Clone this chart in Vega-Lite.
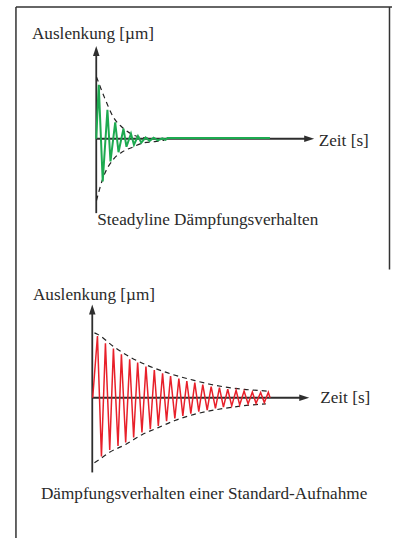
{
  "$schema": "https://vega.github.io/schema/vega-lite/v6.json",
  "width": 393,
  "height": 539,
  "autosize": {"type": "fit", "contains": "padding"},
  "padding": 0,
  "background": "white",
  "config": {"view": {"stroke": null}},
  "data": {"values": [{}]},
  "datasets": {
    "green": [
      {"t": 0, "a": 0}, {"t": 0.114, "a": 0.871}, {"t": 0.297, "a": -0.689}, {"t": 0.513, "a": 0.468},
      {"t": 0.654, "a": -0.366}, {"t": 0.87, "a": 0.266}, {"t": 1.021, "a": -0.218}, {"t": 1.249, "a": 0.161},
      {"t": 1.387, "a": -0.129}, {"t": 1.593, "a": 0.081}, {"t": 1.73, "a": -0.097}, {"t": 1.913, "a": 0.044},
      {"t": 2.069, "a": -0.065}, {"t": 2.265, "a": 0.021}, {"t": 2.449, "a": -0.037}, {"t": 2.632, "a": 0.016},
      {"t": 2.828, "a": -0.027}, {"t": 3.03, "a": 0.005}, {"t": 3.18, "a": -0.016}, {"t": 3.27, "a": 0.012},
      {"t": 7.97, "a": 0.012}
    ],
    "greenEnv": [
      {"side": "oben", "t": 0.01, "a": 1.0}, {"side": "oben", "t": 0.389, "a": 0.656}, {"side": "oben", "t": 0.769, "a": 0.36},
      {"side": "oben", "t": 1.227, "a": 0.173}, {"side": "oben", "t": 1.684, "a": 0.065}, {"side": "oben", "t": 2.297, "a": 0.011},
      {"side": "oben", "t": 2.906, "a": 0.0},
      {"side": "unten", "t": 0.01, "a": -1.0}, {"side": "unten", "t": 0.311, "a": -0.634}, {"side": "unten", "t": 0.769, "a": -0.339},
      {"side": "unten", "t": 1.227, "a": -0.205}, {"side": "unten", "t": 1.684, "a": -0.134}, {"side": "unten", "t": 2.142, "a": -0.069},
      {"side": "unten", "t": 2.755, "a": -0.044}, {"side": "unten", "t": 3.13, "a": -0.024}
    ],
    "red": [
      {"t": 0.02, "a": 0}, {"t": 0.239, "a": 0.951}, {"t": 0.423, "a": -0.905}, {"t": 0.607, "a": 0.838},
      {"t": 0.805, "a": -0.803}, {"t": 0.975, "a": 0.757}, {"t": 1.186, "a": -0.742}, {"t": 1.343, "a": 0.669},
      {"t": 1.54, "a": -0.689}, {"t": 1.724, "a": 0.592}, {"t": 1.908, "a": -0.612}, {"t": 2.092, "a": 0.542},
      {"t": 2.29, "a": -0.535}, {"t": 2.474, "a": 0.48}, {"t": 2.676, "a": -0.485}, {"t": 2.86, "a": 0.428},
      {"t": 3.044, "a": -0.434}, {"t": 3.241, "a": 0.377}, {"t": 3.425, "a": -0.36}, {"t": 3.609, "a": 0.335},
      {"t": 3.807, "a": -0.32}, {"t": 3.991, "a": 0.295}, {"t": 4.175, "a": -0.28}, {"t": 4.359, "a": 0.258},
      {"t": 4.543, "a": -0.245}, {"t": 4.726, "a": 0.234}, {"t": 4.91, "a": -0.215}, {"t": 5.094, "a": 0.203},
      {"t": 5.297, "a": -0.19}, {"t": 5.48, "a": 0.172}, {"t": 5.678, "a": -0.165}, {"t": 5.862, "a": 0.157},
      {"t": 6.046, "a": -0.145}, {"t": 6.244, "a": 0.131}, {"t": 6.428, "a": -0.125}, {"t": 6.63, "a": 0.115},
      {"t": 6.795, "a": -0.11}, {"t": 6.998, "a": 0.105}, {"t": 7.182, "a": -0.095}, {"t": 7.379, "a": 0.089},
      {"t": 7.549, "a": -0.085}, {"t": 7.761, "a": 0.08}, {"t": 7.931, "a": -0.075}, {"t": 8.115, "a": 0.085},
      {"t": 8.193, "a": 0.0}
    ],
    "redEnv": [
      {"side": "oben", "t": 0.1, "a": 1.0}, {"side": "oben", "t": 0.24, "a": 0.98}, {"side": "oben", "t": 0.98, "a": 0.79},
      {"side": "oben", "t": 1.72, "a": 0.63}, {"side": "oben", "t": 2.47, "a": 0.51}, {"side": "oben", "t": 3.24, "a": 0.41},
      {"side": "oben", "t": 3.99, "a": 0.33}, {"side": "oben", "t": 4.73, "a": 0.265}, {"side": "oben", "t": 5.48, "a": 0.205},
      {"side": "oben", "t": 6.24, "a": 0.16}, {"side": "oben", "t": 7.0, "a": 0.13}, {"side": "oben", "t": 7.76, "a": 0.11},
      {"side": "oben", "t": 8.1, "a": 0.1},
      {"side": "unten", "t": 0.1, "a": -1.0}, {"side": "unten", "t": 0.42, "a": -0.93}, {"side": "unten", "t": 0.8, "a": -0.84},
      {"side": "unten", "t": 1.54, "a": -0.72}, {"side": "unten", "t": 2.29, "a": -0.57}, {"side": "unten", "t": 3.04, "a": -0.46},
      {"side": "unten", "t": 3.81, "a": -0.35}, {"side": "unten", "t": 4.54, "a": -0.27}, {"side": "unten", "t": 5.3, "a": -0.21},
      {"side": "unten", "t": 6.05, "a": -0.165}, {"side": "unten", "t": 6.8, "a": -0.13}, {"side": "unten", "t": 7.55, "a": -0.105},
      {"side": "unten", "t": 8.0, "a": -0.095}
    ]
  },
  "resolve": {"scale": {"x": "independent", "y": "independent"}},
  "layer": [
    {
      "layer": [
        {
          "mark": {"type": "rule", "color": "#333333", "strokeWidth": 1.5},
          "encoding": {
            "x": {"datum": -3.684, "type": "quantitative", "scale": {"domain": [-4.416, 13.57], "nice": false, "zero": false}, "axis": null},
            "x2": {"datum": 13.57},
            "y": {"datum": 2.129, "type": "quantitative", "scale": {"domain": [-6.4516, 2.2419], "nice": false, "zero": false}, "axis": null}
          }
        },
        {
          "mark": {"type": "rule", "color": "#333333", "strokeWidth": 1.5},
          "encoding": {
            "x": {"datum": -3.684, "type": "quantitative", "scale": {"domain": [-4.416, 13.57], "nice": false, "zero": false}, "axis": null},
            "y": {"datum": 2.129, "type": "quantitative", "scale": {"domain": [-6.4516, 2.2419], "nice": false, "zero": false}, "axis": null},
            "y2": {"datum": -6.4516}
          }
        },
        {
          "mark": {"type": "rule", "color": "#333333", "strokeWidth": 1.5},
          "encoding": {
            "x": {"datum": 13.455, "type": "quantitative", "scale": {"domain": [-4.416, 13.57], "nice": false, "zero": false}, "axis": null},
            "y": {"datum": 2.129, "type": "quantitative", "scale": {"domain": [-6.4516, 2.2419], "nice": false, "zero": false}, "axis": null},
            "y2": {"datum": -2.113}
          }
        },
        {
          "mark": {"type": "rule", "color": "#2e2e2e", "strokeWidth": 1.8},
          "encoding": {
            "x": {"datum": 0, "type": "quantitative", "scale": {"domain": [-4.416, 13.57], "nice": false, "zero": false}, "axis": null},
            "y": {"datum": 1.36, "type": "quantitative", "scale": {"domain": [-6.4516, 2.2419], "nice": false, "zero": false}, "axis": null},
            "y2": {"datum": -1.202}
          }
        },
        {
          "mark": {"type": "rule", "color": "#2e2e2e", "strokeWidth": 1.8},
          "encoding": {
            "x": {"datum": 0, "type": "quantitative", "scale": {"domain": [-4.416, 13.57], "nice": false, "zero": false}, "axis": null},
            "x2": {"datum": 9.7},
            "y": {"datum": 0, "type": "quantitative", "scale": {"domain": [-6.4516, 2.2419], "nice": false, "zero": false}, "axis": null}
          }
        },
        {
          "mark": {"type": "point", "shape": "M0,-1L0.65,1L-0.65,1Z", "size": 100, "filled": true, "color": "#2e2e2e", "opacity": 1},
          "encoding": {
            "x": {"datum": 0, "type": "quantitative", "scale": {"domain": [-4.416, 13.57], "nice": false, "zero": false}, "axis": null},
            "y": {"datum": 1.419, "type": "quantitative", "scale": {"domain": [-6.4516, 2.2419], "nice": false, "zero": false}, "axis": null}
          }
        },
        {
          "mark": {"type": "point", "shape": "M1,0L-1,0.65L-1,-0.65Z", "size": 100, "filled": true, "color": "#2e2e2e", "opacity": 1},
          "encoding": {
            "x": {"datum": 9.771, "type": "quantitative", "scale": {"domain": [-4.416, 13.57], "nice": false, "zero": false}, "axis": null},
            "y": {"datum": 0, "type": "quantitative", "scale": {"domain": [-6.4516, 2.2419], "nice": false, "zero": false}, "axis": null}
          }
        },
        {
          "data": {"name": "greenEnv"},
          "mark": {"type": "line", "color": "#222222", "strokeWidth": 1.2, "strokeDash": [5, 4], "interpolate": "monotone"},
          "encoding": {
            "x": {"field": "t", "type": "quantitative", "scale": {"domain": [-4.416, 13.57], "nice": false, "zero": false}, "axis": null},
            "y": {"field": "a", "type": "quantitative", "scale": {"domain": [-6.4516, 2.2419], "nice": false, "zero": false}, "axis": null},
            "detail": {"field": "side"}
          }
        },
        {
          "data": {"name": "green"},
          "mark": {"type": "line", "color": "#1daa50", "strokeWidth": 2},
          "encoding": {
            "x": {"field": "t", "type": "quantitative", "scale": {"domain": [-4.416, 13.57], "nice": false, "zero": false}, "axis": null},
            "y": {"field": "a", "type": "quantitative", "scale": {"domain": [-6.4516, 2.2419], "nice": false, "zero": false}, "axis": null}
          }
        },
        {
          "mark": {"type": "text", "text": "Auslenkung [µm]", "font": "Liberation Serif", "fontSize": 17.2, "color": "#2a2a2a", "align": "left", "baseline": "alphabetic"},
          "encoding": {
            "x": {"datum": -2.952, "type": "quantitative", "scale": {"domain": [-4.416, 13.57], "nice": false, "zero": false}, "axis": null},
            "y": {"datum": 1.613, "type": "quantitative", "scale": {"domain": [-6.4516, 2.2419], "nice": false, "zero": false}, "axis": null}
          }
        },
        {
          "mark": {"type": "text", "text": "Zeit [s]", "font": "Liberation Serif", "fontSize": 17.2, "color": "#2a2a2a", "align": "left", "baseline": "alphabetic"},
          "encoding": {
            "x": {"datum": 10.206, "type": "quantitative", "scale": {"domain": [-4.416, 13.57], "nice": false, "zero": false}, "axis": null},
            "y": {"datum": -0.121, "type": "quantitative", "scale": {"domain": [-6.4516, 2.2419], "nice": false, "zero": false}, "axis": null}
          }
        },
        {
          "mark": {"type": "text", "text": "Steadyline Dämpfungsverhalten", "font": "Liberation Serif", "fontSize": 17.2, "color": "#2a2a2a", "align": "left", "baseline": "alphabetic"},
          "encoding": {
            "x": {"datum": 0.046, "type": "quantitative", "scale": {"domain": [-4.416, 13.57], "nice": false, "zero": false}, "axis": null},
            "y": {"datum": -1.387, "type": "quantitative", "scale": {"domain": [-6.4516, 2.2419], "nice": false, "zero": false}, "axis": null}
          }
        }
      ]
    },
    {
      "layer": [
        {
          "mark": {"type": "rule", "color": "#2e2e2e", "strokeWidth": 1.8},
          "encoding": {
            "x": {"datum": 0, "type": "quantitative", "scale": {"domain": [-4.253, 13.816], "nice": false, "zero": false}, "axis": null},
            "y": {"datum": 1.3, "type": "quantitative", "scale": {"domain": [-2.1615, 6.1308], "nice": false, "zero": false}, "axis": null},
            "y2": {"datum": -1.151}
          }
        },
        {
          "mark": {"type": "rule", "color": "#2e2e2e", "strokeWidth": 1.8},
          "encoding": {
            "x": {"datum": 0, "type": "quantitative", "scale": {"domain": [-4.253, 13.816], "nice": false, "zero": false}, "axis": null},
            "x2": {"datum": 9.6},
            "y": {"datum": 0, "type": "quantitative", "scale": {"domain": [-2.1615, 6.1308], "nice": false, "zero": false}, "axis": null}
          }
        },
        {
          "mark": {"type": "point", "shape": "M0,-1L0.65,1L-0.65,1Z", "size": 100, "filled": true, "color": "#2e2e2e", "opacity": 1},
          "encoding": {
            "x": {"datum": 0, "type": "quantitative", "scale": {"domain": [-4.253, 13.816], "nice": false, "zero": false}, "axis": null},
            "y": {"datum": 1.362, "type": "quantitative", "scale": {"domain": [-2.1615, 6.1308], "nice": false, "zero": false}, "axis": null}
          }
        },
        {
          "mark": {"type": "point", "shape": "M1,0L-1,0.65L-1,-0.65Z", "size": 100, "filled": true, "color": "#2e2e2e", "opacity": 1},
          "encoding": {
            "x": {"datum": 9.77, "type": "quantitative", "scale": {"domain": [-4.253, 13.816], "nice": false, "zero": false}, "axis": null},
            "y": {"datum": 0, "type": "quantitative", "scale": {"domain": [-2.1615, 6.1308], "nice": false, "zero": false}, "axis": null}
          }
        },
        {
          "data": {"name": "redEnv"},
          "mark": {"type": "line", "color": "#222222", "strokeWidth": 1.2, "strokeDash": [5, 4], "interpolate": "monotone"},
          "encoding": {
            "x": {"field": "t", "type": "quantitative", "scale": {"domain": [-4.253, 13.816], "nice": false, "zero": false}, "axis": null},
            "y": {"field": "a", "type": "quantitative", "scale": {"domain": [-2.1615, 6.1308], "nice": false, "zero": false}, "axis": null},
            "detail": {"field": "side"}
          }
        },
        {
          "data": {"name": "red"},
          "mark": {"type": "line", "color": "#e8202a", "strokeWidth": 1.5},
          "encoding": {
            "x": {"field": "t", "type": "quantitative", "scale": {"domain": [-4.253, 13.816], "nice": false, "zero": false}, "axis": null},
            "y": {"field": "a", "type": "quantitative", "scale": {"domain": [-2.1615, 6.1308], "nice": false, "zero": false}, "axis": null}
          }
        },
        {
          "mark": {"type": "text", "text": "Auslenkung [µm]", "font": "Liberation Serif", "fontSize": 17.2, "color": "#2a2a2a", "align": "left", "baseline": "alphabetic"},
          "encoding": {
            "x": {"datum": -2.736, "type": "quantitative", "scale": {"domain": [-4.253, 13.816], "nice": false, "zero": false}, "axis": null},
            "y": {"datum": 1.505, "type": "quantitative", "scale": {"domain": [-2.1615, 6.1308], "nice": false, "zero": false}, "axis": null}
          }
        },
        {
          "mark": {"type": "text", "text": "Zeit [s]", "font": "Liberation Serif", "fontSize": 17.2, "color": "#2a2a2a", "align": "left", "baseline": "alphabetic"},
          "encoding": {
            "x": {"datum": 10.506, "type": "quantitative", "scale": {"domain": [-4.253, 13.816], "nice": false, "zero": false}, "axis": null},
            "y": {"datum": -0.077, "type": "quantitative", "scale": {"domain": [-2.1615, 6.1308], "nice": false, "zero": false}, "axis": null}
          }
        },
        {
          "mark": {"type": "text", "text": "Dämpfungsverhalten einer Standard-Aufnahme", "font": "Liberation Serif", "fontSize": 17.2, "color": "#2a2a2a", "align": "left", "baseline": "alphabetic"},
          "encoding": {
            "x": {"datum": -2.368, "type": "quantitative", "scale": {"domain": [-4.253, 13.816], "nice": false, "zero": false}, "axis": null},
            "y": {"datum": -1.562, "type": "quantitative", "scale": {"domain": [-2.1615, 6.1308], "nice": false, "zero": false}, "axis": null}
          }
        }
      ]
    }
  ]
}
